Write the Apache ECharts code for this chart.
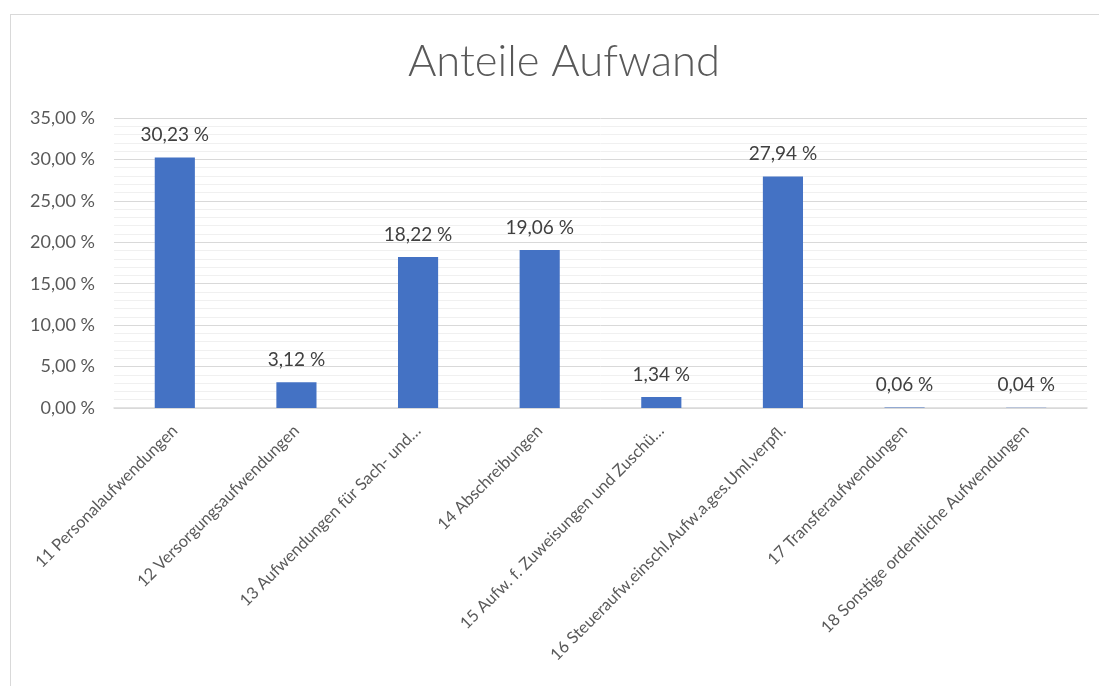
<!DOCTYPE html>
<html><head><meta charset="utf-8">
<script src="https://cdn.jsdelivr.net/npm/echarts@6/dist/echarts.min.js"></script>
<style>
html,body{margin:0;padding:0;background:#fff;overflow:hidden}
#frame{position:absolute;left:10px;top:14px;width:1200px;height:800px;border:1px solid #d9d9d9;box-sizing:border-box}
#c{position:absolute;left:0;top:0;width:1099px;height:686px}
</style></head>
<body>
<div id="frame"></div>
<div id="c"></div>
<script>
const categories = [
  "11 Personalaufwendungen",
  "12 Versorgungsaufwendungen",
  "13 Aufwendungen für Sach- und…",
  "14 Abschreibungen",
  "15 Aufw. f. Zuweisungen und Zuschü…",
  "16 Steueraufw.einschl.Aufw.a.ges.Uml.verpfl.",
  "17 Transferaufwendungen",
  "18 Sonstige ordentliche Aufwendungen"
];
const values = [30.23, 3.12, 18.22, 19.06, 1.34, 27.94, 0.06, 0.04];
const yTicks = [0, 5, 10, 15, 20, 25, 30, 35];

const fmt = v => v.toFixed(2).replace('.', ',') + ' %';
const font = 'Lato, "Open Sans", sans-serif';

const chart = echarts.init(document.getElementById('c'));
chart.setOption({
  animation: false,
  backgroundColor: 'transparent',
  title: {
    text: 'Anteile Aufwand',
    left: 403,
    top: 35,
    textStyle: {fontFamily: font, fontSize: 43.5, fontWeight: 300, color: '#595959'}
  },
  grid: {left: 114, right: 12, top: 118, bottom: 278, containLabel: false},
  xAxis: {
    type: 'category',
    data: categories,
    axisLine: {lineStyle: {color: '#d9d9d9', width: 1.5}},
    axisTick: {show: false},
    axisLabel: {rotate: 45, interval: 0, margin: 20, fontFamily: font, fontSize: 16.5, color: '#595959'}
  },
  yAxis: {
    type: 'value',
    min: yTicks[0],
    max: yTicks[yTicks.length - 1],
    interval: 5,
    axisLine: {show: false},
    axisTick: {show: false},
    axisLabel: {formatter: fmt, margin: 19, fontFamily: font, fontSize: 18, color: '#595959'},
    splitLine: {lineStyle: {color: '#d9d9d9', width: 1}},
    minorTick: {show: false, splitNumber: 5},
    minorSplitLine: {show: true, lineStyle: {color: '#f0f0f0', width: 1}}
  },
  series: [{
    type: 'bar',
    data: values,
    barWidth: '33%',
    itemStyle: {color: '#4472c4'},
    label: {
      show: true,
      position: 'top',
      distance: 13,
      formatter: p => fmt(p.value),
      fontFamily: font,
      fontSize: 19,
      color: '#404040'
    }
  }]
});
</script>
</body></html>
